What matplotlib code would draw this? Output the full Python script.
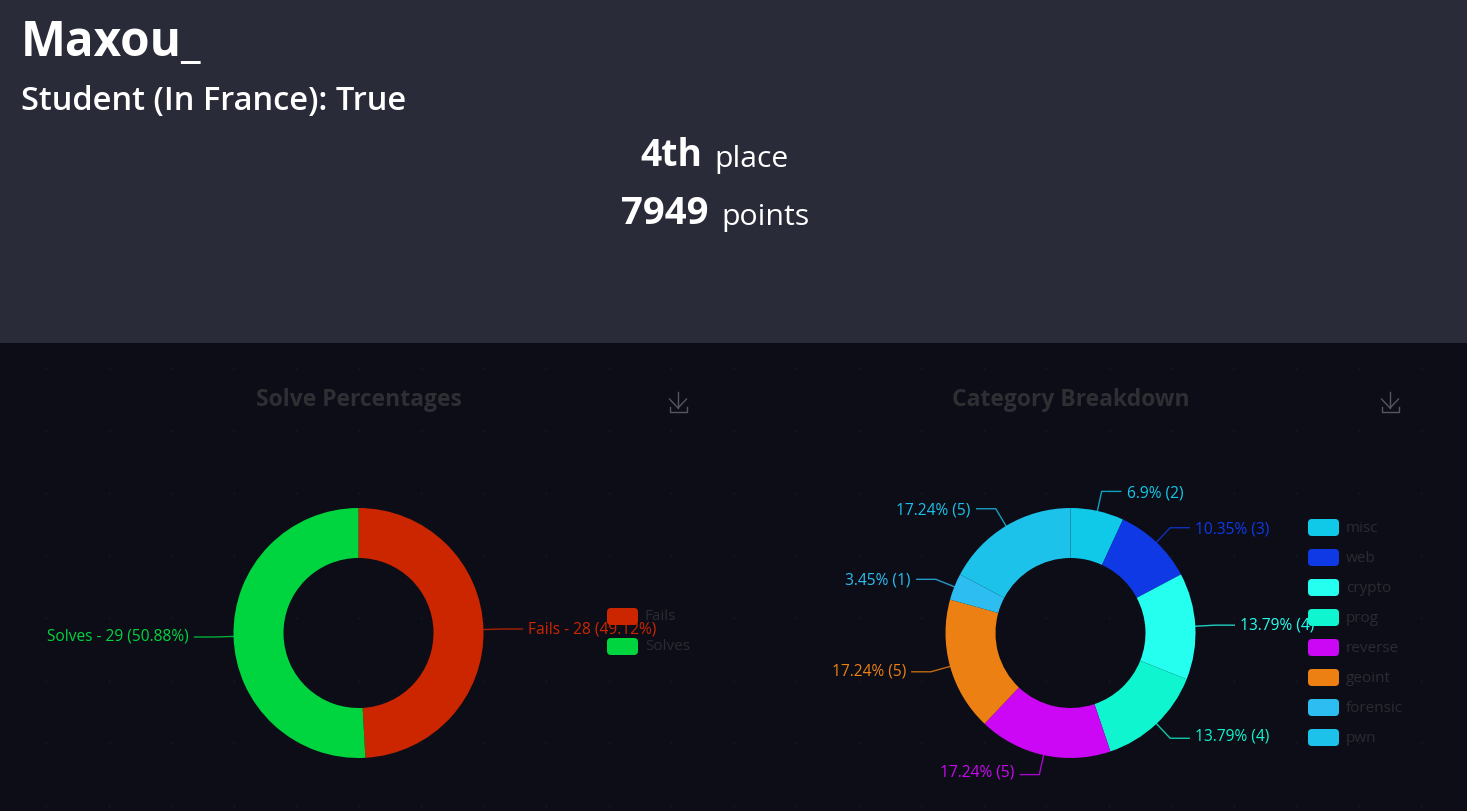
import matplotlib
matplotlib.use("Agg")
import matplotlib.pyplot as plt
from matplotlib.patches import FancyBboxPatch, Rectangle
import numpy as np

plt.rcParams['font.family'] = ['Open Sans', 'DejaVu Sans']

W, H = 1467, 811

# solve chart
solve_names = ["Fails", "Solves"]
solve_values = [28, 29]
solve_labels = ["Fails - 28 (49.12%)", "Solves - 29 (50.88%)"]
solve_colors = ["#CC2600", "#00D53F"]

# category chart
cat_names = ["misc", "web", "crypto", "prog", "reverse", "geoint", "forensic", "pwn"]
cat_values = [2, 3, 4, 4, 5, 5, 1, 5]
cat_labels = ["6.9% (2)", "10.35% (3)", "13.79% (4)", "13.79% (4)",
              "17.24% (5)", "17.24% (5)", "3.45% (1)", "17.24% (5)"]
cat_colors = ["#10C9E9", "#1039E6", "#25FFF0", "#0FF5D0",
              "#CC07F5", "#EC8012", "#2DBDF0", "#1CC2EA"]

fig = plt.figure(figsize=(W / 100, H / 100), dpi=100, facecolor="#0C0D17")

# overlay in pixel coords, y going down like the screenshot
ax = fig.add_axes([0, 0, 1, 1])
ax.set_xlim(0, W)
ax.set_ylim(H, 0)
ax.axis("off")

ax.add_patch(Rectangle((0, 0), W, 343, facecolor="#2A2B38", edgecolor="none"))

# faint dot grid behind the charts
gx, gy = np.meshgrid(np.arange(46, W, 62.5), np.arange(368, H, 62.5))
ax.scatter(gx.ravel(), gy.ravel(), s=2.5, color="#15161F", linewidths=0)

# header
ax.text(21, 43, "Maxou_", color="white", fontsize=34.3, fontweight=700, va="center", ha="left")
ax.text(21, 101, "Student (In France): True", color="white", fontsize=23.5, fontweight=600, va="center", ha="left")
ax.text(702, 156, "4th", color="white", fontsize=26.8, fontweight=700, va="center", ha="right")
ax.text(714, 159, "place", color="white", fontsize=21.7, va="center", ha="left")
ax.text(709, 214, "7949", color="white", fontsize=27.5, fontweight=700, va="center", ha="right")
ax.text(721, 217, "points", color="white", fontsize=21.8, va="center", ha="left")


def draw_icon(x):
    c = "#55565C"
    ax.plot([x, x], [392, 408], color=c, lw=1)
    ax.plot([x - 8.5, x, x + 8.5], [399, 408, 399], color=c, lw=1)
    ax.plot([x - 8.5, x - 8.5, x + 8.5, x + 8.5], [407, 412, 412, 407], color=c, lw=1)


def draw_donut(cx, cy, values, colors, labels, names, title, title_x, legend_x, legend_y):
    R = 125
    pie_ax = fig.add_axes([(cx - R) / W, (H - cy - R) / H, 2 * R / W, 2 * R / H], zorder=1)
    wedges, _ = pie_ax.pie(values, colors=colors, startangle=90, counterclock=False,
                           radius=1, wedgeprops=dict(width=0.4, linewidth=0))
    pie_ax.set_xlim(-1, 1)
    pie_ax.set_ylim(-1, 1)

    # leaders + labels, from the wedge angles
    top = fig.add_axes([0, 0, 1, 1], zorder=2)
    top.set_xlim(0, W)
    top.set_ylim(H, 0)
    top.axis("off")
    top.patch.set_alpha(0)
    for w, lab, col in zip(wedges, labels, colors):
        a = np.deg2rad((w.theta1 + w.theta2) / 2)
        x0, y0 = cx + R * np.cos(a), cy - R * np.sin(a)
        x1, y1 = cx + (R + 20) * np.cos(a), cy - (R + 20) * np.sin(a)
        side = 1 if np.cos(a) >= 0 else -1
        x2 = x1 + side * 19
        top.plot([x0, x1, x2], [y0, y1, y1], color=col, lw=1, alpha=0.8)
        # labels drift a little towards the middle in the original
        top.text(x2 + side * 6, y1 + (cy - y1) / 70, lab, color=col, fontsize=11.2,
                 va="center", ha="left" if side > 0 else "right")

    # legend sits on top of the labels
    for i, (n, col) in enumerate(zip(names, colors)):
        y = legend_y + i * 30
        top.add_patch(FancyBboxPatch((legend_x, y), 31, 17,
                                     boxstyle="round,pad=0,rounding_size=4",
                                     facecolor=col, edgecolor="none", zorder=5))
        top.text(legend_x + 38, y + 9, n, color="#2B2C31", fontsize=11, va="center", ha="left", zorder=6)

    top.text(title_x, 400, title, color="#2E2F33", fontsize=16.5, fontweight=700, va="center", ha="center")


draw_icon(678)
draw_icon(1390)
draw_donut(358.5, 633, solve_values, solve_colors, solve_labels, solve_names,
           "Solve Percentages", 358.5, 607, 608)
draw_donut(1070.5, 633, cat_values, cat_colors, cat_labels, cat_names,
           "Category Breakdown", 1070.5, 1308, 519)

fig.savefig("out.png", dpi=100, facecolor=fig.get_facecolor())
